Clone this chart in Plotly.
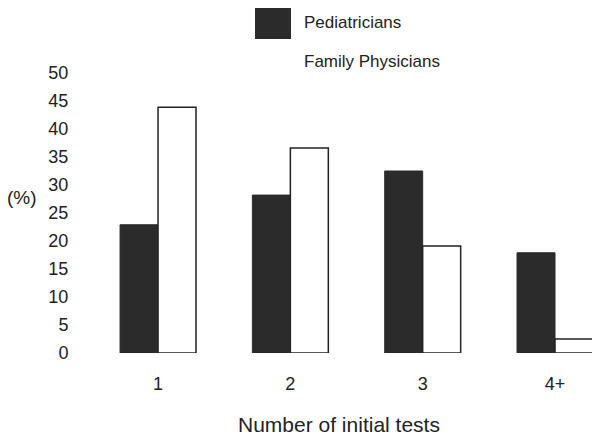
import plotly.graph_objects as go

categories = ["1", "2", "3", "4+"]
pediatricians = [22.9, 28.2, 32.5, 17.9]
family_physicians = [43.9, 36.6, 19.1, 2.5]
y_ticks = [0, 5, 10, 15, 20, 25, 30, 35, 40, 45, 50]

# page has an 8px body margin; work in page pixels and convert
OFF = 8
W, H = 600 - OFF, 437 - OFF
L, R = 92 - OFF, 0
T = 73 - OFF
B = H - (353 - OFF)

fig = go.Figure()
fig.add_trace(go.Bar(x=categories, y=pediatricians, name="Pediatricians",
                     marker=dict(color="#2b2b2b", line=dict(color="#2b2b2b", width=1)),
                     showlegend=False))
fig.add_trace(go.Bar(x=categories, y=family_physicians, name="Family Physicians",
                     marker=dict(color="white", line=dict(color="#222222", width=1.5)),
                     showlegend=False))

def px_x(x):
    return (x - OFF - L) / (W - L - R)

def px_y(y):
    return (H - B - (y - OFF)) / (H - T - B)

fig.add_shape(type="rect", xref="paper", yref="paper",
              x0=px_x(255), x1=px_x(291), y0=px_y(39), y1=px_y(8),
              fillcolor="#2b2b2b", line=dict(color="#2b2b2b", width=0))
fig.add_annotation(xref="paper", yref="paper", x=px_x(302), y=px_y(23),
                   text="Pediatricians", showarrow=False, xanchor="left", yanchor="middle",
                   font=dict(size=17, color="#222222"))
fig.add_annotation(xref="paper", yref="paper", x=px_x(302), y=px_y(62),
                   text="Family Physicians", showarrow=False, xanchor="left", yanchor="middle",
                   font=dict(size=17, color="#222222"))
fig.add_annotation(xref="paper", yref="paper", x=px_x(22), y=px_y(197),
                   text="(%)", showarrow=False, xanchor="center", yanchor="middle",
                   font=dict(size=19, color="#222222"))
fig.add_annotation(xref="paper", yref="paper", x=px_x(339), y=px_y(424),
                   text="Number of initial tests", showarrow=False, xanchor="center",
                   yanchor="middle", font=dict(size=21, color="#222222"))

fig.update_layout(
    width=W, height=H,
    margin=dict(l=L, r=R, t=T, b=B),
    paper_bgcolor="white", plot_bgcolor="white",
    barmode="group", bargap=0.426, bargroupgap=0,
    font=dict(family="Liberation Sans, Arial, sans-serif", color="#222222"),
    xaxis=dict(range=[-0.499, 3.34], showgrid=False, zeroline=False, showline=False,
               ticks="outside", ticklen=14, tickcolor="white", tickfont=dict(size=18)),
    yaxis=dict(range=[0, 50], tickvals=y_ticks, showgrid=False, zeroline=False,
               showline=False, ticks="outside", ticklen=19, tickcolor="white",
               tickfont=dict(size=18)),
)

fig.write_html("out.html")
